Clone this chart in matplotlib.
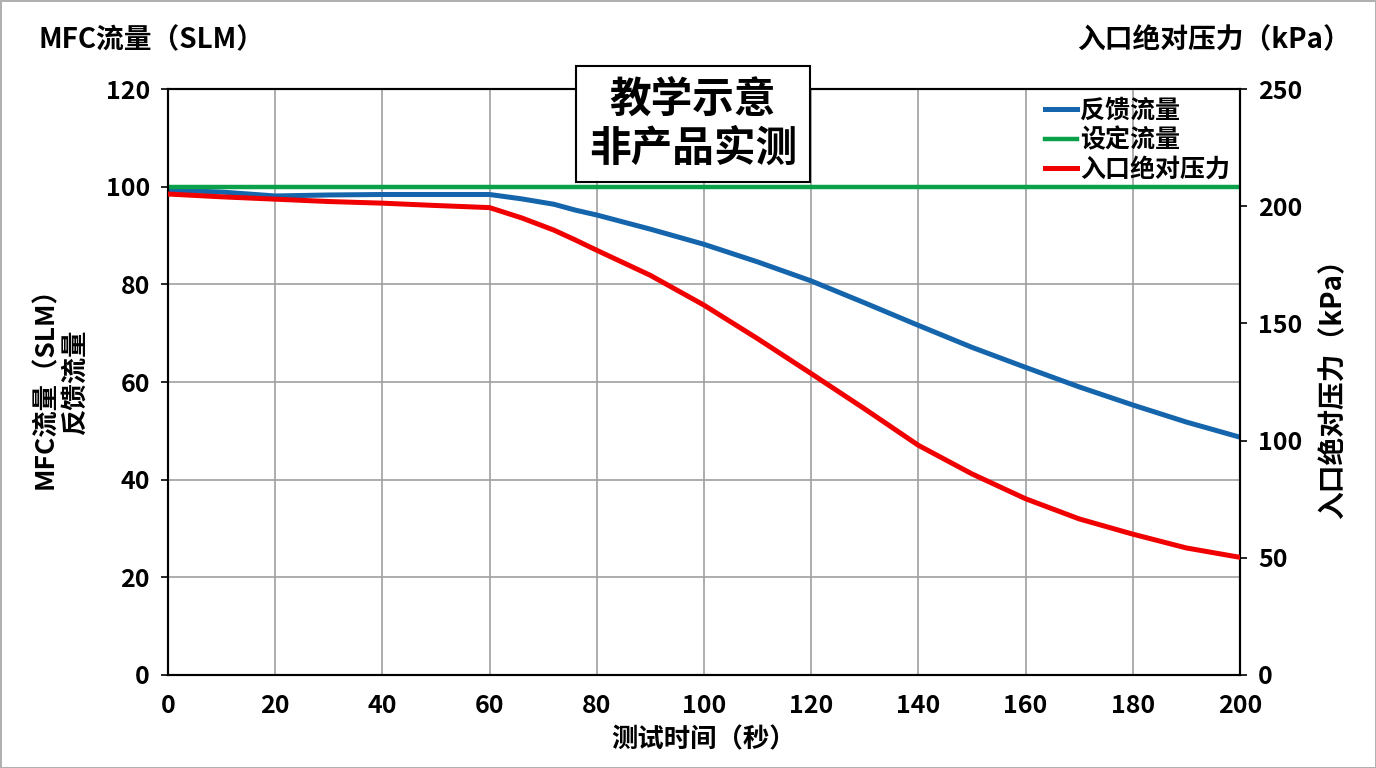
import numpy as np
import matplotlib.pyplot as plt

plt.rcParams['font.family'] = ['Noto Sans CJK SC', 'DejaVu Sans']
plt.rcParams['font.weight'] = 'heavy'

# 测试时间（秒）
t = [0, 10, 20, 30, 40, 50, 60, 66, 72, 76, 80, 90, 100, 110, 120,
     130, 140, 150, 160, 170, 180, 190, 200]
# 反馈流量 (SLM)
flow_fb = [99.3, 98.9, 98.1, 98.3, 98.4, 98.4, 98.4, 97.5, 96.4, 95.2, 94.2,
           91.3, 88.2, 84.6, 80.7, 76.2, 71.6, 67.1, 63.0, 59.0, 55.3, 51.8, 48.7]
# 设定流量 (SLM)
flow_set = [100] * len(t)
# 入口绝对压力 (kPa)
p_in = [205.2, 204.0, 203.0, 202.0, 201.3, 200.3, 199.4, 195.0, 189.8, 185.6,
        181.2, 170.5, 157.8, 143.5, 128.6, 113.5, 98.0, 85.8, 75.2, 66.6,
        60.1, 54.2, 50.2]

c_blue, c_green, c_red = '#1565AD', '#0BA04A', '#F00000'
W = 'heavy'

fig = plt.figure(figsize=(13.76, 7.68), dpi=100)
fig.patch.set_edgecolor('#b0b0b0')
fig.patch.set_linewidth(2)
ax = fig.add_axes([0.1221, 0.1211, 0.779, 0.763])
ax2 = ax.twinx()

l1, = ax.plot(t, flow_fb, color=c_blue, lw=3.6, label='反馈流量', zorder=3)
l2, = ax.plot(t, flow_set, color=c_green, lw=3.2, label='设定流量', zorder=3)
l3, = ax2.plot(t, p_in, color=c_red, lw=3.6, label='入口绝对压力', zorder=3)

ax.set_xlim(0, 200)
ax.set_ylim(0, 120)
ax2.set_ylim(0, 250)
ax.set_xticks(np.arange(0, 201, 20))
ax.set_yticks(np.arange(0, 121, 20))
ax2.set_yticks(np.arange(0, 251, 50))
ax.grid(True, color='#a0a0a0', lw=1.2)
ax.tick_params(axis='x', labelsize=18, length=0, pad=14)
ax.tick_params(axis='y', labelsize=18, length=5, width=1.2, pad=8)
ax2.tick_params(axis='y', labelsize=18, length=5, width=1.2, pad=8)
for a in (ax, ax2):
    for s in a.spines.values():
        s.set_linewidth(1.5)
        s.set_color('black')
    for lab in a.get_xticklabels() + a.get_yticklabels():
        lab.set_fontweight(W)

ax.set_xlabel('测试时间（秒）', fontsize=19, fontweight=W, labelpad=6)
ax.set_ylabel('MFC流量（SLM）\n反馈流量', fontsize=19, fontweight=W,
              linespacing=1.15, labelpad=12)
ax2.set_ylabel('入口绝对压力（kPa）', fontsize=20, fontweight=W, labelpad=12)

fig.text(0.028, 0.948, 'MFC流量（SLM）', fontsize=20, fontweight=W, va='center')
fig.text(0.982, 0.948, '入口绝对压力（kPa）', fontsize=20, fontweight=W,
         va='center', ha='right')

fig.text(0.5036, 0.8385, '教学示意\n非产品实测', fontsize=30, fontweight=W,
         ha='center', va='center', linespacing=1.2,
         bbox=dict(boxstyle='square,pad=0.3', fc='white', ec='black', lw=1.5))

leg = ax.legend(handles=[l1, l2, l3], loc='upper right', frameon=False,
                handlelength=1.3, handletextpad=0.1,
                labelspacing=0.2, borderaxespad=0.0,
                prop={'weight': W, 'size': 18})

fig.savefig('out.png', dpi=100)
